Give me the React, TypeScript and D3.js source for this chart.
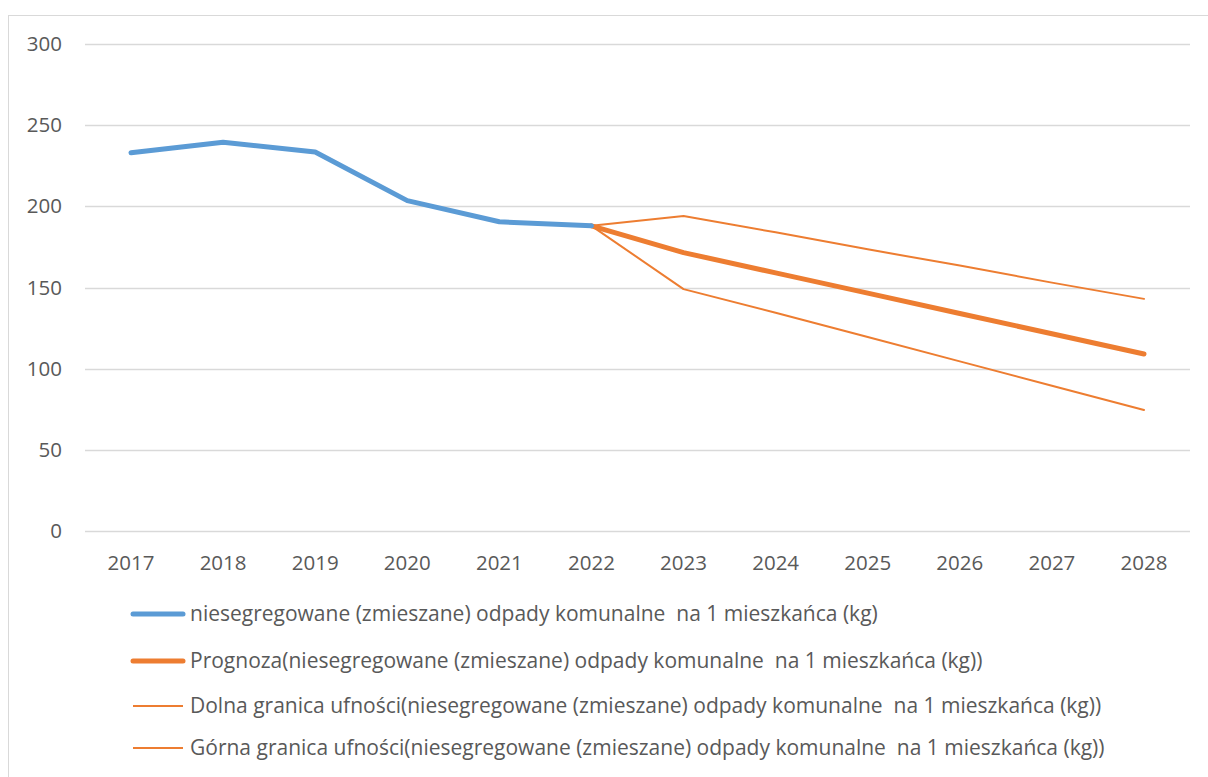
import React from "react";
import * as d3 from "d3";

const years = ["2017","2018","2019","2020","2021","2022","2023","2024","2025","2026","2027","2028"];
const actual: (number | null)[] = [233, 239.5, 233.5, 203.5, 190.5, 188, null, null, null, null, null, null];
const forecast: (number | null)[] = [null, null, null, null, null, 188, 171.5, 159, 146.5, 134, 121.5, 109];
const lower: (number | null)[] = [null, null, null, null, null, 188, 149, 134.5, 119.5, 104.5, 89.5, 74.5];
const upper: (number | null)[] = [null, null, null, null, null, 188, 194, 184, 173.5, 163.5, 153, 143];
const yTicks = [0, 50, 100, 150, 200, 250, 300];
const legendLabels = [
  "niesegregowane (zmieszane) odpady komunalne  na 1 mieszkańca (kg)",
  "Prognoza(niesegregowane (zmieszane) odpady komunalne  na 1 mieszkańca (kg))",
  "Dolna granica ufności(niesegregowane (zmieszane) odpady komunalne  na 1 mieszkańca (kg))",
  "Górna granica ufności(niesegregowane (zmieszane) odpady komunalne  na 1 mieszkańca (kg))",
];

const BLUE = "#5B9BD5";
const ORANGE = "#ED7D31";
const TEXT = "#595959";
const FONT = "'Open Sans', sans-serif";

export default function App() {
  const W = 1208, H = 777;
  const x = d3.scalePoint<string>().domain(years).range([131, 1144]);
  const y = d3.scaleLinear().domain([0, 300]).range([531, 44]);
  const line = d3.line<number | null>()
    .defined((d) => d !== null)
    .x((_, i) => x(years[i]) as number)
    .y((d) => y(d as number));

  const series = [
    { data: actual, color: BLUE, width: 5 },
    { data: forecast, color: ORANGE, width: 5 },
    { data: lower, color: ORANGE, width: 2 },
    { data: upper, color: ORANGE, width: 2 },
  ];
  const drawOrder = [2, 3, 1, 0];
  const legendY = [614, 661, 706, 748];

  return (
    <svg width={W} height={H} style={{ position: "absolute", left: 0, top: 0, background: "#fff" }} fontFamily={FONT}>
      <rect x={8.5} y={15.5} width={W + 20} height={H + 20} fill="#fff" stroke="#D9D9D9" strokeWidth={1} />
      {yTicks.map((t) => (
        <g key={t}>
          <line x1={85} x2={1190} y1={Math.round(y(t)) + 0.5} y2={Math.round(y(t)) + 0.5} stroke="#D9D9D9" strokeWidth={1.3} />
          <text x={62} y={y(t) + 7} textAnchor="end" fontSize={20.5} fill={TEXT}>{t}</text>
        </g>
      ))}
      {years.map((yr) => (
        <text key={yr} x={x(yr)} y={570} textAnchor="middle" fontSize={20.5} fill={TEXT}>{yr}</text>
      ))}
      {drawOrder.map((i) => (
        <path key={i} d={line(series[i].data) || ""} fill="none" stroke={series[i].color}
          strokeWidth={series[i].width} strokeLinejoin="round" strokeLinecap="round" />
      ))}
      {legendLabels.map((lab, i) => (
        <g key={i}>
          <line x1={133} x2={183} y1={legendY[i]} y2={legendY[i]} stroke={series[i].color}
            strokeWidth={series[i].width} strokeLinecap={series[i].width > 3 ? "round" : "butt"} />
          <text x={190} y={legendY[i] + 7} fontSize={21} fill={TEXT} style={{ whiteSpace: "pre" }}>{lab}</text>
        </g>
      ))}
    </svg>
  );
}
